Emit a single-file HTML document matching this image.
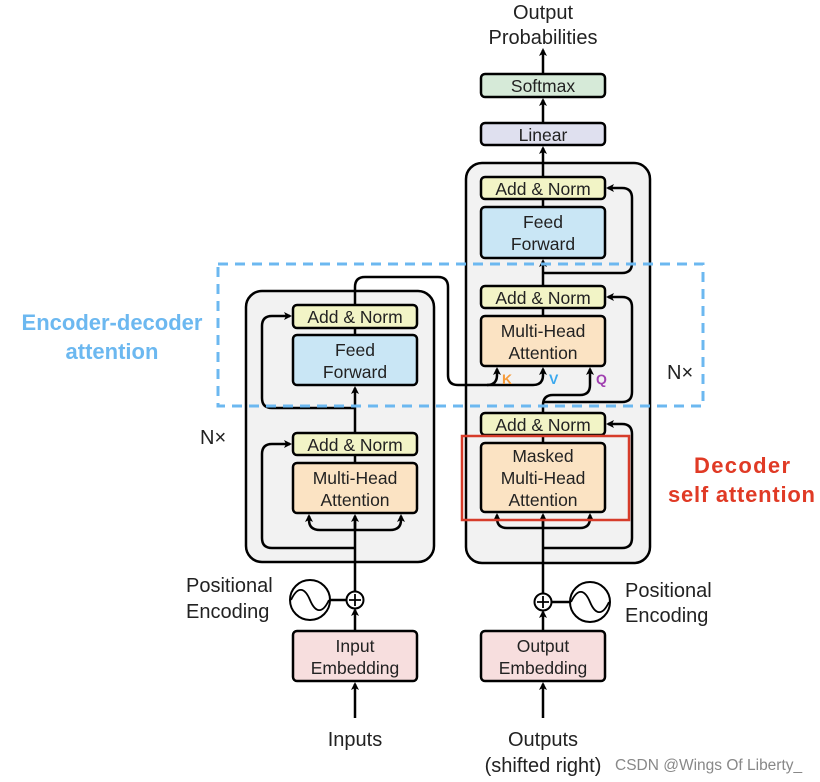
<!DOCTYPE html>
<html><head><meta charset="utf-8"><style>
html,body{margin:0;padding:0;background:#fff;}
svg{display:block;font-family:"Liberation Sans",sans-serif;}
</style></head><body>
<svg width="820" height="782" viewBox="0 0 820 782" xmlns="http://www.w3.org/2000/svg">
<defs>
<marker id="a" markerWidth="8" markerHeight="8" refX="6" refY="4" orient="auto" markerUnits="userSpaceOnUse"><path d="M0,0 L8,4 L0,8 L2,4 z" fill="#000"/></marker>
</defs>
<rect x="246" y="291" width="188" height="271" rx="16" fill="#f2f2f2" stroke="#000" stroke-width="2.5"/>
<rect x="466" y="163" width="184" height="400" rx="16" fill="#f2f2f2" stroke="#000" stroke-width="2.5"/>
<g fill="none" stroke="#000" stroke-width="2.5">
<path d="M355 718 L355 684" marker-end="url(#a)"/>
<path d="M355 631 L355 610" marker-end="url(#a)"/>
<path d="M355 592 L355 518"/>
<path d="M355 530 L355 516" marker-end="url(#a)"/>
<path d="M355 530 H320 Q309 530 309 520 L309 516" marker-end="url(#a)"/>
<path d="M355 530 H390 Q401 530 401 520 L401 516" marker-end="url(#a)"/>
<path d="M355 548 H272 Q262 548 262 538 V454 Q262 444 272 444 H290" marker-end="url(#a)"/>
<path d="M355 463 V455"/>
<path d="M355 433 V388" marker-end="url(#a)"/>
<path d="M355 408 H272 Q262 408 262 398 V326 Q262 316 272 316 H290" marker-end="url(#a)"/>
<path d="M355 335 V328"/>
<path d="M355 305 V287 Q355 277 365 277 H438 Q448 277 448 287 V375 Q448 385 458 385 H487 Q497 385 497 375 V369" marker-end="url(#a)"/>
<path d="M487 385 H533 Q543 385 543 375 V369" marker-end="url(#a)"/>
<path d="M543 718 L543 684" marker-end="url(#a)"/>
<path d="M543 631 L543 612" marker-end="url(#a)"/>
<path d="M543 594 L543 518"/>
<path d="M543 528 L543 515" marker-end="url(#a)"/>
<path d="M543 528 H507 Q497 528 497 518 L497 515" marker-end="url(#a)"/>
<path d="M543 528 H580 Q590 528 590 518 L590 515" marker-end="url(#a)"/>
<path d="M543 548 H622 Q632 548 632 538 V434 Q632 424 622 424 H608" marker-end="url(#a)"/>
<path d="M543 443 V435"/>
<path d="M543 413 V405 Q543 395 553 395 H580 Q590 395 590 385 V369" marker-end="url(#a)"/>
<path d="M543 402 H622 Q632 402 632 392 V307 Q632 297 622 297 H608" marker-end="url(#a)"/>
<path d="M543 316 V308"/>
<path d="M543 286 V261" marker-end="url(#a)"/>
<path d="M543 273 H622 Q632 273 632 263 V198 Q632 188 622 188 H608" marker-end="url(#a)"/>
<path d="M543 207 V199"/>
<path d="M543 177 V148" marker-end="url(#a)"/>
<path d="M543 123 V100" marker-end="url(#a)"/>
<path d="M543 74 V50" marker-end="url(#a)"/>
<path d="M330 600 H347"/>
<path d="M551 602 H570"/>
</g>
<g fill="#fff" stroke="#000" stroke-width="2">
<circle cx="355" cy="600" r="8.5"/><circle cx="543" cy="602" r="8.5"/>
<circle cx="310" cy="600" r="20"/><circle cx="590" cy="602" r="20"/>
</g>
<g stroke="#000" stroke-width="1.8" fill="none">
<path d="M349 600 H361 M355 594 V606"/><path d="M537 602 H549 M543 596 V608"/>
<path d="M291 600 C298 585 305 588 310 600 C315 612 322 615 329 600"/>
<path d="M571 602 C578 587 585 590 590 602 C595 614 602 617 609 602"/>
</g>
<g stroke="#000" stroke-width="2.5">
<rect x="293" y="305" width="124" height="23" rx="4" fill="#f2f4c6"/>
<rect x="293" y="335" width="124" height="50" rx="4" fill="#c9e6f5"/>
<rect x="293" y="433" width="124" height="22" rx="4" fill="#f2f4c6"/>
<rect x="293" y="463" width="124" height="50" rx="4" fill="#fbe3c3"/>
<rect x="481" y="177" width="124" height="22" rx="4" fill="#f2f4c6"/>
<rect x="481" y="207" width="124" height="51" rx="4" fill="#c9e6f5"/>
<rect x="481" y="286" width="124" height="22" rx="4" fill="#f2f4c6"/>
<rect x="481" y="316" width="124" height="50" rx="4" fill="#fbe3c3"/>
<rect x="481" y="413" width="124" height="22" rx="4" fill="#f2f4c6"/>
<rect x="481" y="443" width="124" height="69" rx="4" fill="#fbe3c3"/>
<rect x="481" y="123" width="124" height="22" rx="4" fill="#dfe0ef"/>
<rect x="481" y="74" width="124" height="23" rx="4" fill="#d6ead8"/>
<rect x="293" y="631" width="124" height="50" rx="4" fill="#f7dede"/>
<rect x="481" y="631" width="124" height="50" rx="4" fill="#f7dede"/>
</g>
<rect x="218" y="264" width="485" height="142" fill="none" stroke="#6cb8f0" stroke-width="3" stroke-dasharray="10,7"/>
<rect x="462" y="436" width="167" height="84" fill="none" stroke="#d63c2a" stroke-width="2.5"/>
<g font-size="17.5" fill="#222" text-anchor="middle">
<text x="355" y="323">Add &amp; Norm</text>
<text x="355" y="356">Feed</text><text x="355" y="378">Forward</text>
<text x="355" y="451">Add &amp; Norm</text>
<text x="355" y="484">Multi-Head</text><text x="355" y="506">Attention</text>
<text x="543" y="195">Add &amp; Norm</text>
<text x="543" y="228">Feed</text><text x="543" y="250">Forward</text>
<text x="543" y="304">Add &amp; Norm</text>
<text x="543" y="337">Multi-Head</text><text x="543" y="359">Attention</text>
<text x="543" y="431">Add &amp; Norm</text>
<text x="543" y="462">Masked</text><text x="543" y="484">Multi-Head</text><text x="543" y="506">Attention</text>
<text x="543" y="141">Linear</text>
<text x="543" y="92">Softmax</text>
<text x="355" y="652">Input</text><text x="355" y="674">Embedding</text>
<text x="543" y="652">Output</text><text x="543" y="674">Embedding</text>
</g>
<g font-size="20" fill="#222">
<text x="543" y="19" text-anchor="middle">Output</text>
<text x="543" y="44" text-anchor="middle">Probabilities</text>
<text x="355" y="746" text-anchor="middle">Inputs</text>
<text x="543" y="746" text-anchor="middle">Outputs</text>
<text x="543" y="772" text-anchor="middle">(shifted right)</text>
<text x="186" y="592">Positional</text><text x="186" y="618">Encoding</text>
<text x="625" y="597">Positional</text><text x="625" y="622">Encoding</text>
<text x="200" y="444">N×</text><text x="667" y="379">N×</text>
</g>
<g font-size="14" font-weight="bold">
<text x="502" y="384" fill="#f59a3a">K</text>
<text x="549" y="384" fill="#3aa8ee">V</text>
<text x="596" y="384" fill="#a040b0">Q</text>
</g>
<g font-size="22" font-weight="bold" text-anchor="middle" fill="#6cb8f0">
<text x="112" y="330">Encoder-decoder</text><text x="112" y="359">attention</text>
</g>
<g font-size="22" font-weight="bold" fill="#e03a25">
<text x="694" y="473" textLength="96">Decoder</text><text x="668" y="502" textLength="147">self attention</text>
</g>
<text x="615" y="770" font-size="15.5" fill="#888">CSDN @Wings Of Liberty_</text>
</svg>
</body></html>
